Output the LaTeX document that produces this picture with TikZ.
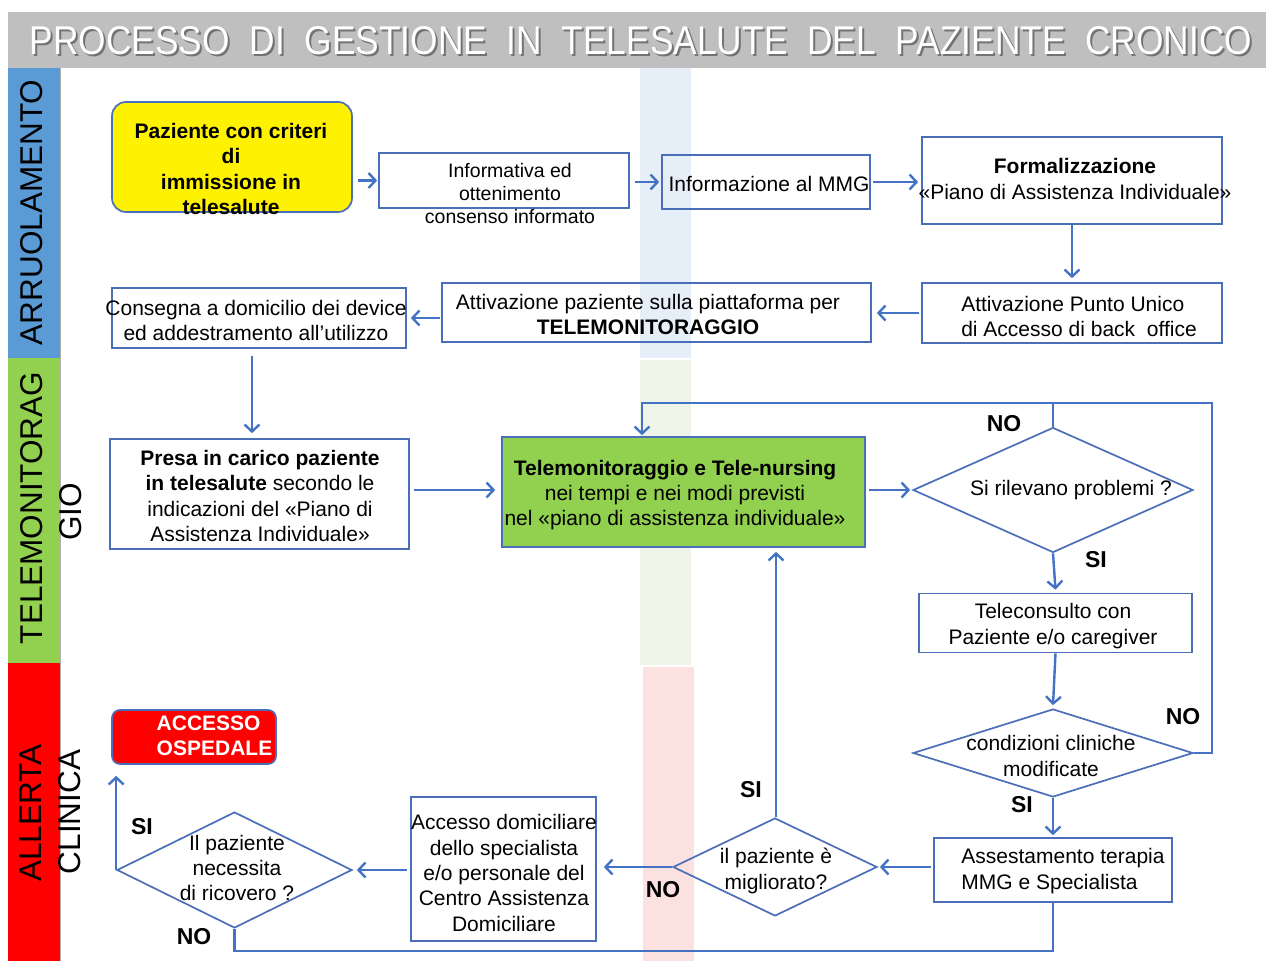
\documentclass[tikz,border=0pt]{standalone}
\usepackage{fontspec}
\setmainfont{Liberation Sans}
\usetikzlibrary{arrows.meta,shapes.geometric}
\definecolor{ln}{HTML}{4472C4}
\definecolor{bx}{HTML}{4A6FB8}
\definecolor{lblue}{HTML}{5B9BD5}
\definecolor{lgreen}{HTML}{92D050}
\definecolor{lred}{HTML}{FF0000}
\definecolor{tgray}{HTML}{BFBFBF}
\definecolor{sblue}{HTML}{E6EEF8}
\definecolor{sgreen}{HTML}{EEF5E8}
\definecolor{spink}{HTML}{FCE1E1}
\begin{document}
\begin{tikzpicture}[x=1pt,y=-1pt,
 box/.style={draw=bx, line width=1.7pt, inner sep=0pt},
 txt/.style={font=\fontsize{21}{25.3}\selectfont, align=center, inner sep=0pt},
 btxt/.style={font=\fontsize{21}{25.3}\selectfont\bfseries, align=center, inner sep=0pt},
 dia/.style={diamond, draw=bx, line width=1.7pt, inner sep=0pt},
 conn/.style={draw=ln, line width=2.4pt, -{Straight Barb[length=7pt,width=15pt]}},
 plain/.style={draw=ln, line width=2.4pt},
 yn/.style={font=\fontsize{23}{23}\selectfont\bfseries, inner sep=0pt},
 lane/.style={font=\fontsize{31.5}{32}\selectfont, rotate=90, inner sep=0pt}]
\useasboundingbox (0,0) rectangle (1266,961);
\fill[white] (0,0) rectangle (1266,961);
% background stripes
\fill[sblue] (640,68) rectangle (691,358);
\fill[sgreen] (640,360) rectangle (691,665);
\fill[spink] (643,667) rectangle (694,961);
% title
\fill[tgray] (8,12) rectangle (1266,68);
\node[inner sep=0pt] (titlesh) at (643,43) {\resizebox{1222pt}{28pt}{\color{black!55}PROCESSO\ \ DI\ \ GESTIONE\ \ IN\ \ TELESALUTE\ \ DEL\ \ PAZIENTE\ \ CRONICO}};
\node[inner sep=0pt] (title) at (641,41) {\resizebox{1222pt}{28pt}{\color{white}PROCESSO\ \ DI\ \ GESTIONE\ \ IN\ \ TELESALUTE\ \ DEL\ \ PAZIENTE\ \ CRONICO}};
% lanes
\fill[lblue] (8,68) rectangle (60,358);
\fill[lgreen] (8,358) rectangle (60,663);
\fill[lred] (8,663) rectangle (60,961);
\draw[black!30, line width=1pt] (60,68) -- (60,961);
\node[lane] (l1) at (32,212.5) {ARRUOLAMENTO};
\node[lane] (l2) at (32,508) {TELEMONITORAG};
\node[lane] (l2b) at (71,512) {GIO};
\node[lane] (l3) at (31,813) {ALLERTA};
\node[lane] (l3b) at (70,812) {CLINICA};
% boxes
\node[box, rounded corners=14pt, fill=yellow, minimum width=240pt, minimum height=110pt] (p1) at (232,157) {};
\node[btxt] (p1t) at (231,169) {Paziente con criteri\\di\\immissione in\\telesalute};
\node[box, minimum width=250pt, minimum height=55pt] (b2) at (504,180.5) {};
\node[txt, font=\fontsize{19.5}{23}\selectfont] (b2t) at (510,194) {Informativa ed\\ottenimento\\consenso informato};
\node[box, minimum width=208pt, minimum height=54pt] (b3) at (766,182) {};
\node[txt] (b3t) at (769,184) {Informazione al MMG};
\node[box, minimum width=300pt, minimum height=87pt] (b4) at (1072,180.5) {};
\node[txt] (b4t) at (1075,179) {\textbf{Formalizzazione}\\«Piano di Assistenza Individuale»};
\node[box, minimum width=300pt, minimum height=60pt] (b5) at (1072,313) {};
\node[txt, align=left] (b5t) at (1079,316.5) {Attivazione Punto Unico\\di Accesso di back\ \ office};
\node[box, minimum width=429pt, minimum height=59pt] (b6) at (656.5,312.5) {};
\node[txt] (b6t) at (648,314.5) {Attivazione paziente sulla piattaforma per\\\textbf{TELEMONITORAGGIO}};
\node[box, minimum width=294pt, minimum height=60pt] (b7) at (259,318) {};
\node[txt] (b7t) at (256,320.5) {Consegna a domicilio dei device\\ed addestramento all’utilizzo};
\node[box, minimum width=299pt, minimum height=110pt] (b8) at (259.5,494) {};
\node[txt] (b8t) at (260,496) {\textbf{Presa in carico paziente}\\\textbf{in telesalute} secondo le\\indicazioni del «Piano di\\Assistenza Individuale»};
\node[box, fill=lgreen, minimum width=363pt, minimum height=110pt] (g) at (683.5,492) {};
\node[txt] (gt) at (675,495) {\textbf{Telemonitoraggio e Tele-nursing}\\nei tempi e nei modi previsti\\nel «piano di assistenza individuale»};
\node[dia, minimum width=280pt, minimum height=125pt] (d1) at (1053,490) {};
\node[txt] (d1t) at (1071,490) {Si rilevano problemi ?};
\node[box, minimum width=273pt, minimum height=59pt] (b11) at (1055.5,623) {};
\node[txt] (b11t) at (1053,626) {Teleconsulto con\\Paziente e/o caregiver};
\node[dia, minimum width=280pt, minimum height=88pt] (d2) at (1053,753) {};
\node[txt] (d2t) at (1051,756) {condizioni cliniche\\modificate};
\node[box, minimum width=238pt, minimum height=64pt] (b13) at (1053,870) {};
\node[txt, align=left] (b13t) at (1063,871) {Assestamento terapia\\MMG e Specialista};
\node[dia, minimum width=204pt, minimum height=98pt] (d14) at (775,867) {};
\node[txt] (d14t) at (776,871) {il paziente è\\migliorato?};
\node[box, minimum width=185pt, minimum height=144pt] (b15) at (503.5,869) {};
\node[txt] (b15t) at (504,873) {Accesso domiciliare\\dello specialista\\e/o personale del\\Centro Assistenza\\Domiciliare};
\node[dia, minimum width=235pt, minimum height=116pt] (d16) at (234.5,870) {};
\node[txt] (d16t) at (237,868) {Il paziente\\necessita\\di ricovero ?};
\node[box, rounded corners=8pt, fill=lred, minimum width=164pt, minimum height=54pt] (acc) at (194,737) {};
\node[btxt, align=left, text=white] (acct) at (214.5,735.5) {ACCESSO\\OSPEDALE};
% connectors
\draw[conn] ([xshift=5pt]p1.east |- b2.west) -- ([xshift=-1pt]b2.west);
\draw[conn] ([xshift=5pt]b2.east |- b3.west) -- ([xshift=-2pt]b3.west);
\draw[conn] ([xshift=2pt]b3.east) -- ([xshift=-3pt]b3.east -| b4.west);
\draw[conn] (b4.south) -- ([yshift=4pt]b5.north);
\draw[conn] ([xshift=-2pt]b5.west) -- ([xshift=5pt]b5.west -| b6.east);
\draw[conn] ([xshift=-1pt]b6.west |- b7.east) -- ([xshift=4pt]b7.east);
\draw[conn] ([xshift=-7pt,yshift=-7pt]b7.south) -- ([xshift=-7pt,yshift=5pt]b7.south |- b8.north);
\draw[conn] ([xshift=4pt]b8.east |- d1.west) -- ([xshift=-6pt]g.west |- d1.west);
\draw[conn] ([xshift=3pt]g.east |- d1.west) -- ([xshift=-2pt]d1.west);
\coordinate (lt) at (642,403);
\coordinate (rt) at (1212,403);
\draw[plain] (d1.north) -- (d1.north |- lt);
\draw[conn] (d2.east) -- (d2.east -| rt) -- (rt) -- (lt) -- ([yshift=1pt]lt |- g.north);
\draw[conn] (d1.south) -- ([yshift=3pt]b11.north);
\draw[conn] (b11.south) -- ([yshift=3pt]d2.north);
\draw[conn] (d2.south) -- ([yshift=2pt]b13.north);
\draw[conn] ([xshift=-2pt]b13.west |- d14.east) -- ([xshift=2pt]d14.east);
\draw[conn] ([xshift=1pt]d14.north) -- ([xshift=1pt,yshift=-4pt]d14.north |- g.south);
\draw[conn] (d14.west) -- ([xshift=7pt]d14.west -| b15.east);
\draw[conn] ([xshift=-3pt]b15.west |- d16.east) -- ([xshift=4pt]d16.east);
\draw[conn] (d16.west) -- ([yshift=-11pt]d16.west |- acc.south);
\coordinate (bl) at (235,951);
\draw[plain] (d16.south) -- (d16.south |- bl) -- (bl -| b13.south) -- (b13.south);
% yes/no labels
\node[yn] (n1) at (1004,424) {NO};
\node[yn] (s1) at (1096,560) {SI};
\node[yn] (n2) at (1183,717) {NO};
\node[yn] (s2) at (1022,805) {SI};
\node[yn] (s3) at (751,790) {SI};
\node[yn] (n3) at (663,890) {NO};
\node[yn] (s4) at (142,827) {SI};
\node[yn] (n4) at (194,937) {NO};
\end{tikzpicture}
\end{document}
